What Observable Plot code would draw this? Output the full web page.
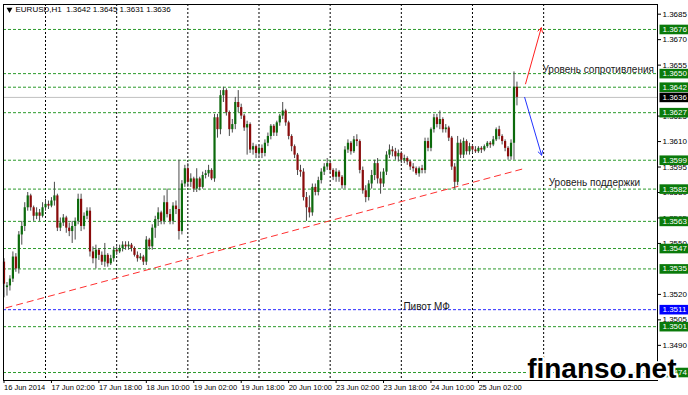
<!DOCTYPE html>
<html><head><meta charset="utf-8">
<script src="https://cdn.jsdelivr.net/npm/d3@7"></script>
<script src="https://cdn.jsdelivr.net/npm/@observablehq/plot@0.6"></script>
<style>body{margin:0;background:#fff} svg{display:block}</style>
</head><body><div id="chart"></div>
<script>
// EURUSD H1 candles, 16 Jun 2014 10:00 ... 25 Jun 2014
const open = [1.3539,1.3524,1.3525,1.3529,1.3542,1.3535,1.3555,1.3560,1.3571,1.3578,1.3571,1.3566,1.3568,1.3566,1.3571,1.3573,1.3572,1.3575,1.3578,1.3559,1.3562,1.3565,1.3559,1.3557,1.3560,1.3563,1.3576,1.3560,1.3566,1.3569,1.3545,1.3541,1.3546,1.3543,1.3539,1.3543,1.3538,1.3541,1.3546,1.3545,1.3547,1.3549,1.3548,1.3549,1.3547,1.3543,1.3541,1.3542,1.3539,1.3552,1.3548,1.3559,1.3564,1.3568,1.3563,1.3574,1.3567,1.3563,1.3572,1.3570,1.3557,1.3585,1.3594,1.3586,1.3588,1.3582,1.3588,1.3583,1.3590,1.3591,1.3593,1.3588,1.3624,1.3617,1.3637,1.3640,1.3627,1.3617,1.3620,1.3633,1.3630,1.3625,1.3618,1.3620,1.3605,1.3607,1.3603,1.3606,1.3603,1.3609,1.3613,1.3619,1.3615,1.3621,1.3625,1.3628,1.3621,1.3613,1.3607,1.3602,1.3593,1.3592,1.3577,1.3571,1.3568,1.3583,1.3580,1.3587,1.3592,1.3595,1.3597,1.3593,1.3589,1.3592,1.3589,1.3584,1.3605,1.3609,1.3604,1.3611,1.3610,1.3593,1.3581,1.3577,1.3585,1.3590,1.3597,1.3588,1.3585,1.3592,1.3602,1.3605,1.3604,1.3601,1.3603,1.3599,1.3600,1.3598,1.3595,1.3594,1.3591,1.3594,1.3593,1.3610,1.3606,1.3617,1.3624,1.3620,1.3623,1.3617,1.3618,1.3612,1.3595,1.3586,1.3609,1.3602,1.3610,1.3604,1.3607,1.3605,1.3604,1.3606,1.3605,1.3607,1.3609,1.3608,1.3611,1.3617,1.3613,1.3610,1.3606,1.3601,1.3609,1.3642];
const high = [1.3541,1.3527,1.3531,1.3545,1.3544,1.3557,1.3563,1.3574,1.3580,1.3579,1.3572,1.3571,1.3570,1.3574,1.3576,1.3575,1.3577,1.3586,1.3579,1.3565,1.3567,1.3566,1.3562,1.3563,1.3565,1.3579,1.3579,1.3568,1.3571,1.3571,1.3548,1.3549,1.3547,1.3545,1.3550,1.3544,1.3543,1.3548,1.3548,1.3549,1.3551,1.3551,1.3551,1.3550,1.3548,1.3545,1.3544,1.3543,1.3554,1.3553,1.3561,1.3566,1.3571,1.3569,1.3578,1.3582,1.3570,1.3574,1.3575,1.3599,1.3587,1.3596,1.3597,1.3591,1.3589,1.3594,1.3589,1.3592,1.3593,1.3596,1.3594,1.3626,1.3626,1.3640,1.3642,1.3641,1.3628,1.3623,1.3636,1.3640,1.3632,1.3626,1.3622,1.3621,1.3609,1.3608,1.3608,1.3608,1.3611,1.3615,1.3620,1.3620,1.3622,1.3626,1.3633,1.3629,1.3622,1.3614,1.3608,1.3603,1.3596,1.3594,1.3580,1.3578,1.3585,1.3585,1.3589,1.3594,1.3597,1.3600,1.3598,1.3594,1.3594,1.3593,1.3590,1.3607,1.3611,1.3610,1.3613,1.3614,1.3611,1.3595,1.3584,1.3587,1.3593,1.3599,1.3600,1.3592,1.3594,1.3604,1.3608,1.3607,1.3606,1.3605,1.3604,1.3602,1.3601,1.3599,1.3597,1.3595,1.3595,1.3596,1.3612,1.3612,1.3618,1.3626,1.3626,1.3628,1.3624,1.3620,1.3619,1.3613,1.3597,1.3613,1.3611,1.3612,1.3611,1.3609,1.3608,1.3607,1.3607,1.3607,1.3608,1.3610,1.3610,1.3613,1.3618,1.3619,1.3614,1.3611,1.3607,1.3611,1.3651,1.3645];
const low = [1.3518,1.3519,1.3522,1.3527,1.3533,1.3532,1.3549,1.3557,1.3569,1.3569,1.3563,1.3564,1.3563,1.3565,1.3569,1.3570,1.3571,1.3572,1.3557,1.3557,1.3560,1.3556,1.3554,1.3550,1.3552,1.3561,1.3557,1.3558,1.3564,1.3542,1.3538,1.3535,1.3540,1.3537,1.3536,1.3536,1.3537,1.3539,1.3543,1.3544,1.3545,1.3546,1.3546,1.3545,1.3542,1.3539,1.3540,1.3537,1.3537,1.3546,1.3546,1.3553,1.3560,1.3561,1.3561,1.3565,1.3561,1.3561,1.3567,1.3552,1.3555,1.3583,1.3583,1.3583,1.3580,1.3580,1.3581,1.3582,1.3588,1.3589,1.3587,1.3586,1.3612,1.3614,1.3633,1.3625,1.3613,1.3615,1.3617,1.3627,1.3623,1.3616,1.3602,1.3603,1.3602,1.3600,1.3601,1.3600,1.3601,1.3607,1.3611,1.3613,1.3613,1.3619,1.3623,1.3619,1.3611,1.3604,1.3600,1.3590,1.3589,1.3575,1.3563,1.3565,1.3566,1.3578,1.3578,1.3585,1.3590,1.3593,1.3591,1.3587,1.3586,1.3586,1.3582,1.3582,1.3603,1.3602,1.3603,1.3607,1.3591,1.3579,1.3574,1.3575,1.3582,1.3587,1.3585,1.3579,1.3583,1.3590,1.3600,1.3601,1.3599,1.3598,1.3597,1.3597,1.3596,1.3593,1.3592,1.3590,1.3589,1.3591,1.3591,1.3604,1.3604,1.3615,1.3618,1.3617,1.3615,1.3615,1.3610,1.3593,1.3582,1.3584,1.3600,1.3600,1.3602,1.3602,1.3603,1.3603,1.3603,1.3603,1.3604,1.3606,1.3606,1.3607,1.3610,1.3611,1.3608,1.3604,1.3599,1.3599,1.3599,1.3631];
const close = [1.3526,1.3525,1.3529,1.3542,1.3535,1.3555,1.3560,1.3571,1.3578,1.3571,1.3566,1.3568,1.3566,1.3571,1.3573,1.3572,1.3575,1.3578,1.3559,1.3562,1.3565,1.3559,1.3557,1.3560,1.3563,1.3576,1.3560,1.3566,1.3569,1.3545,1.3541,1.3546,1.3543,1.3539,1.3543,1.3538,1.3541,1.3546,1.3545,1.3547,1.3549,1.3548,1.3549,1.3547,1.3543,1.3541,1.3542,1.3539,1.3552,1.3548,1.3559,1.3564,1.3568,1.3563,1.3574,1.3567,1.3563,1.3572,1.3570,1.3557,1.3585,1.3594,1.3586,1.3588,1.3582,1.3588,1.3583,1.3590,1.3591,1.3593,1.3588,1.3624,1.3617,1.3637,1.3640,1.3627,1.3617,1.3620,1.3633,1.3630,1.3625,1.3618,1.3620,1.3605,1.3607,1.3603,1.3606,1.3603,1.3609,1.3613,1.3619,1.3615,1.3621,1.3625,1.3628,1.3621,1.3613,1.3607,1.3602,1.3593,1.3592,1.3577,1.3571,1.3568,1.3583,1.3580,1.3587,1.3592,1.3595,1.3597,1.3593,1.3589,1.3592,1.3589,1.3584,1.3605,1.3609,1.3604,1.3611,1.3610,1.3593,1.3581,1.3577,1.3585,1.3590,1.3597,1.3588,1.3585,1.3592,1.3602,1.3605,1.3604,1.3601,1.3603,1.3599,1.3600,1.3598,1.3595,1.3594,1.3591,1.3594,1.3593,1.3610,1.3606,1.3617,1.3624,1.3620,1.3623,1.3617,1.3618,1.3612,1.3595,1.3586,1.3609,1.3602,1.3610,1.3604,1.3607,1.3605,1.3604,1.3606,1.3605,1.3607,1.3609,1.3608,1.3611,1.3617,1.3613,1.3610,1.3606,1.3601,1.3609,1.3642,1.3636];

const dateTickBars = [0,16,32,48,64,80,96,112,128,144,160];
const dateTickLabels = ["16 Jun 2014","17 Jun 02:00","17 Jun 18:00","18 Jun 10:00","19 Jun 02:00","19 Jun 18:00","20 Jun 10:00","23 Jun 02:00","23 Jun 18:00","24 Jun 10:00","25 Jun 02:00"];
const dayBreakBars = [14,38,62,86,110,134,158,182];
// price-axis ticks that are visible (others are hidden by the level boxes)
const priceTicks = [1.3685,1.3670,1.3655,1.3625,1.3610,1.3595,1.3580,1.3565,1.3550,1.3520,1.3505,1.3490];
const greenLevels = [1.3676,1.3650,1.3642,1.3627,1.3599,1.3582,1.3563,1.3547,1.3535,1.3501,1.3474];
const pivotLevels = [1.3511];
const bidLevels = [1.3636];
const titleText = "EURUSD,H1  1.3642 1.3645 1.3631 1.3636";
// support trend line (bar index, price)
const trendX = [0.5, 175.2];
const trendY = [1.3512, 1.3594];
// forecast arrows
const arrowNames = ["up","down"];
const arrowX1 = [175.9, 175.6], arrowY1 = [1.3644, 1.3636];
const arrowX2 = [181.2, 181.3], arrowY2 = [1.3677, 1.3602];
const arrowColors = ["#ff2020","#2233ff"];
// annotations
const noteTexts = ["Уровень сопротивления","Уровень поддержки","Пивот МФ"];
const noteX = [181.6, 183.7, 134.7];
const noteY = [1.3652, 1.35855, 1.35125];

const bars = open.map((o, i) => ({i, o, h: high[i], l: low[i], c: close[i]}));
const up = bars.filter(d => d.c >= d.o), down = bars.filter(d => d.c < d.o);
const arrows = arrowNames.map((n, k) => ({x1: arrowX1[k], y1: arrowY1[k], x2: arrowX2[k], y2: arrowY2[k], color: arrowColors[k]}));
const trend = [{x1: trendX[0], y1: trendY[0], x2: trendX[1], y2: trendY[1]}];
const notes = noteTexts.map((t, k) => ({t, x: noteX[k], y: noteY[k]}));
const fmt = d => d.toFixed(4);
const boxSymbol = {draw(ctx){ ctx.moveTo(-14.5,-4.8); ctx.lineTo(14.5,-4.8); ctx.lineTo(14.5,4.8); ctx.lineTo(-14.5,4.8); ctx.closePath(); }};
const font = "Liberation Sans, Arial, sans-serif";

const chart = Plot.plot({
  width: 688, height: 395,
  marginLeft: 3, marginRight: 31, marginTop: 4, marginBottom: 15,
  style: {background: "#fff", fontFamily: font, fontSize: "8px", color: "#000", overflow: "visible"},
  x: {domain: [-0.17, 220.4]},
  y: {domain: [1.34693, 1.36907]},
  marks: [
    Plot.ruleX(dayBreakBars, {stroke: "#000", strokeDasharray: "2,2", strokeWidth: 1}),
    Plot.ruleY(greenLevels, {stroke: "#2b9a2b", strokeDasharray: "3,2", strokeWidth: 1}),
    Plot.ruleY(pivotLevels, {stroke: "#2525ff", strokeDasharray: "3,2", strokeWidth: 1}),
    Plot.ruleY(bidLevels, {stroke: "#c0c0c0", strokeWidth: 1}),
    Plot.link(trend, {x1: "x1", y1: "y1", x2: "x2", y2: "y2", stroke: "#ff3030", strokeDasharray: "7,4", strokeWidth: 1}),
    Plot.ruleX(bars, {x: "i", y1: "l", y2: "h", stroke: "#4a4a4a", strokeWidth: 1}),
    Plot.ruleX(up, {x: "i", y1: "o", y2: "c", stroke: "#0c6a0c", strokeWidth: 2.2}),
    Plot.ruleX(down, {x: "i", y1: "o", y2: "c", stroke: "#8a0b0b", strokeWidth: 2.2}),
    Plot.arrow(arrows, {x1: "x1", y1: "y1", x2: "x2", y2: "y2", stroke: "color", strokeWidth: 1, headLength: 7}),
    Plot.text(notes, {x: "x", y: "y", text: "t", textAnchor: "start", fontSize: 10, fill: "#1a1a1a"}),
    Plot.frame({stroke: "#000", strokeWidth: 1}),
    Plot.axisY({anchor: "right", ticks: priceTicks, tickFormat: fmt, tickSize: 3, tickPadding: 2, label: null, fontSize: 8}),
    Plot.axisX(dateTickBars, {anchor: "bottom", tickFormat: (d) => dateTickLabels[dateTickBars.indexOf(d)], tickSize: 3, tickPadding: 1, textAnchor: "start", dx: 0, label: null, fontSize: 7.5}),
    Plot.dot(greenLevels, {y: d => d, frameAnchor: "right", dx: 16.5, symbol: boxSymbol, fill: "#0a7a0a", stroke: null}),
    Plot.dot(pivotLevels, {y: d => d, frameAnchor: "right", dx: 16.5, symbol: boxSymbol, fill: "#0000ff", stroke: null}),
    Plot.dot(bidLevels, {y: d => d, frameAnchor: "right", dx: 16.5, symbol: boxSymbol, fill: "#000", stroke: null}),
    Plot.text(greenLevels.concat(pivotLevels, bidLevels), {y: d => d, text: fmt, frameAnchor: "right", dx: 5, textAnchor: "start", fill: "#fff", fontSize: 8}),
    Plot.dot([0], {frameAnchor: "top-left", dx: 6, dy: 5, symbol: "triangle", rotate: 180, r: 2.2, fill: "#000", stroke: null}),
    Plot.text([titleText], {frameAnchor: "top-left", dx: 12, dy: 5, textAnchor: "start", lineAnchor: "middle", fontSize: 8, fill: "#000"}),
    Plot.text(["finanso.net"], {frameAnchor: "bottom-right", dx: 19, dy: -3, textAnchor: "end", lineAnchor: "bottom", fontSize: 28, fontWeight: "bold", fill: "#000", stroke: "#fff", strokeWidth: 4, paintOrder: "stroke"})
  ]
});
document.getElementById("chart").append(chart);
</script>
</body></html>
